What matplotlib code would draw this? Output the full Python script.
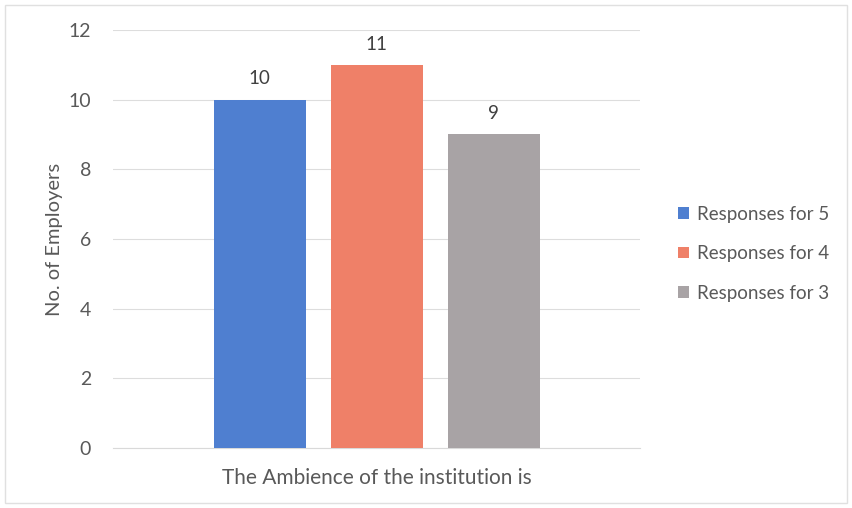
import matplotlib.pyplot as plt
from matplotlib.patches import Rectangle

category = "The Ambience of the institution is"
series = ["Responses for 5", "Responses for 4", "Responses for 3"]
values = [10, 11, 9]
colors = ["#4F7FD0", "#EF8068", "#A8A3A5"]

plt.rcParams['font.family'] = ['Lato', 'DejaVu Sans']
txt = "#595959"

fig = plt.figure(figsize=(8.52, 5.08), dpi=100)
ax = fig.add_axes([0.133, 0.118, 0.618, 0.823])

offsets = [-1, 0, 1]
for off, name, v, c in zip(offsets, series, values, colors):
    ax.bar(off, v, width=0.786, color=c, label=name, zorder=3)
    ax.text(off, v + 0.35, str(v), ha='center', va='bottom', fontsize=13.5, color="#404040")

ax.set_xlim(-2.25, 2.25)
ax.set_ylim(0, 12)
ax.set_yticks(range(0, 13, 2))
ax.set_xticks([0])
ax.set_xticklabels([category])
ax.tick_params(axis='x', length=0, labelsize=15, labelcolor=txt, pad=14)
ax.tick_params(axis='y', length=0, labelsize=14, labelcolor=txt, pad=16)
ax.grid(axis='y', color="#DDDDDD", linewidth=0.8, zorder=0)
for s in ['top', 'right', 'left']:
    ax.spines[s].set_visible(False)
ax.spines['bottom'].set_color("#D9D9D9")
ax.set_ylabel("No. of Employers", fontsize=14.5, color=txt, labelpad=4)

ax.legend(loc='center left', bbox_to_anchor=(1.04, 0.465), frameon=False,
          fontsize=13.5, handlelength=0.6, handleheight=0.6, handletextpad=0.4,
          labelspacing=1.2, labelcolor=txt)

fig.patches.append(Rectangle((0.006, 0.01), 0.988, 0.98, transform=fig.transFigure,
                             fill=False, edgecolor="#E0E0E0", linewidth=1))

fig.savefig("out.png", dpi=100)
